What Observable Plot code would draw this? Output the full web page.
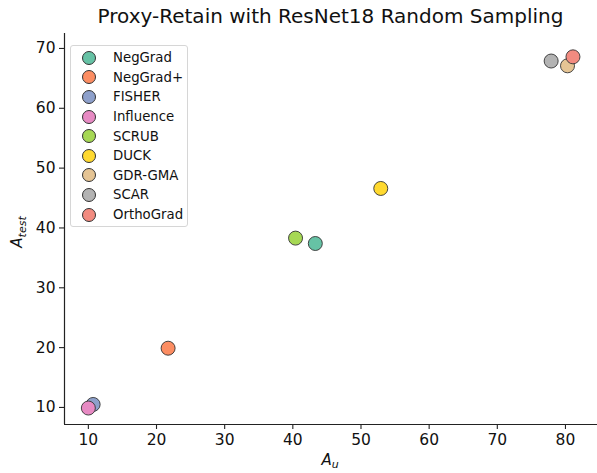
<!DOCTYPE html>
<html><head><meta charset="utf-8">
<script src="https://cdn.jsdelivr.net/npm/d3@7"></script>
<script src="https://cdn.jsdelivr.net/npm/@observablehq/plot@0.6"></script>
<style>
body{margin:0;background:#fff;font-family:"DejaVu Sans",sans-serif;}
#wrap{position:relative;width:597px;height:473px;overflow:hidden;}
#title{position:absolute;left:64px;width:533px;top:4px;text-align:center;font-size:20px;color:#111;line-height:24px;}
#chart{position:absolute;left:0;top:33px;}
#legend{position:absolute;left:70px;top:45px;width:118px;height:182px;border:1px solid #d6d6d6;border-radius:3px;background:rgba(255,255,255,0.8);box-sizing:border-box;}
.li{position:absolute;left:11px;height:14px;display:flex;align-items:center;font-size:13.3px;color:#111;white-space:nowrap;}
.li span.m{display:inline-block;width:14px;height:14px;border-radius:50%;border:1px solid #333;margin-right:17px;box-sizing:border-box;flex:none;}
</style></head>
<body><div id="wrap"><div id="title">Proxy-Retain with ResNet18 Random Sampling</div><div id="chart"></div><div id="legend"></div></div>
<script>
const methods = ["NegGrad","NegGrad+","FISHER","Influence","SCRUB","DUCK","GDR-GMA","SCAR","OrthoGrad"];
const Au    = [43.3, 21.7, 10.7, 10.0, 40.4, 52.9, 80.3, 77.9, 81.1];
const Atest = [37.4, 19.9, 10.5,  9.9, 38.3, 46.6, 67.1, 67.9, 68.6];
const colors = ["#66c2a5","#fc8d62","#8da0cb","#e78ac3","#a6d854","#ffd92f","#e5c494","#b3b3b3","#f28b80"];
const xTicks = [10,20,30,40,50,60,70,80];
const yTicks = [10,20,30,40,50,60,70];

const data = methods.map((m,i)=>({m, x:Au[i], y:Atest[i]}));
const xDom = [6.5, 84.7], yDom = [7.15, 72.5];

const plot = Plot.plot({
  width: 597, height: 440,
  marginTop: 0, marginLeft: 64, marginRight: 0, marginBottom: 49,
  style: {fontFamily: "DejaVu Sans, sans-serif", fontSize: "15.5px", color: "#111", background: "#fff"},
  x: {domain: xDom, ticks: xTicks, tickSize: 5, tickPadding: 4, label: null},
  y: {domain: yDom, ticks: yTicks, tickSize: 5, tickPadding: 4, label: null},
  color: {domain: methods, range: colors},
  marks: [
    Plot.ruleX([xDom[0]], {stroke: "#222", strokeWidth: 1.2}),
    Plot.ruleY([yDom[0]], {stroke: "#222", strokeWidth: 1.2}),
    Plot.dot(data, {x: "x", y: "y", fill: "m", r: 7, stroke: "#333", strokeWidth: 0.9, fillOpacity: 1})
  ]
});
document.getElementById("chart").appendChild(plot);
const svg = d3.select(plot);
svg.selectAll("[aria-label='x-axis tick'] path, [aria-label='y-axis tick'] path").attr("stroke", "#222").attr("stroke-width", 1.1);
// axis labels with subscripts
const yl = svg.append("text").attr("transform", "translate(22,199) rotate(-90)").attr("text-anchor","middle").attr("font-size","15px").attr("fill","#111").attr("font-family","DejaVu Sans, sans-serif");
yl.append("tspan").attr("font-style","italic").text("A");
yl.append("tspan").attr("font-style","italic").attr("font-size","11px").attr("dy","4").text("test");
const xl = svg.append("text").attr("transform", "translate(330,432)").attr("text-anchor","middle").attr("font-size","15px").attr("fill","#111").attr("font-family","DejaVu Sans, sans-serif");
xl.append("tspan").attr("font-style","italic").text("A");
xl.append("tspan").attr("font-style","italic").attr("font-size","11px").attr("dy","3").text("u");

const lg = document.getElementById("legend");
methods.forEach((m,i)=>{
  const d = document.createElement("div");
  d.className = "li";
  d.style.top = (4.7 + i*19.6) + "px";
  d.innerHTML = `<span class="m" style="background:${colors[i]}"></span>${m}`;
  lg.appendChild(d);
});
</script></body></html>
